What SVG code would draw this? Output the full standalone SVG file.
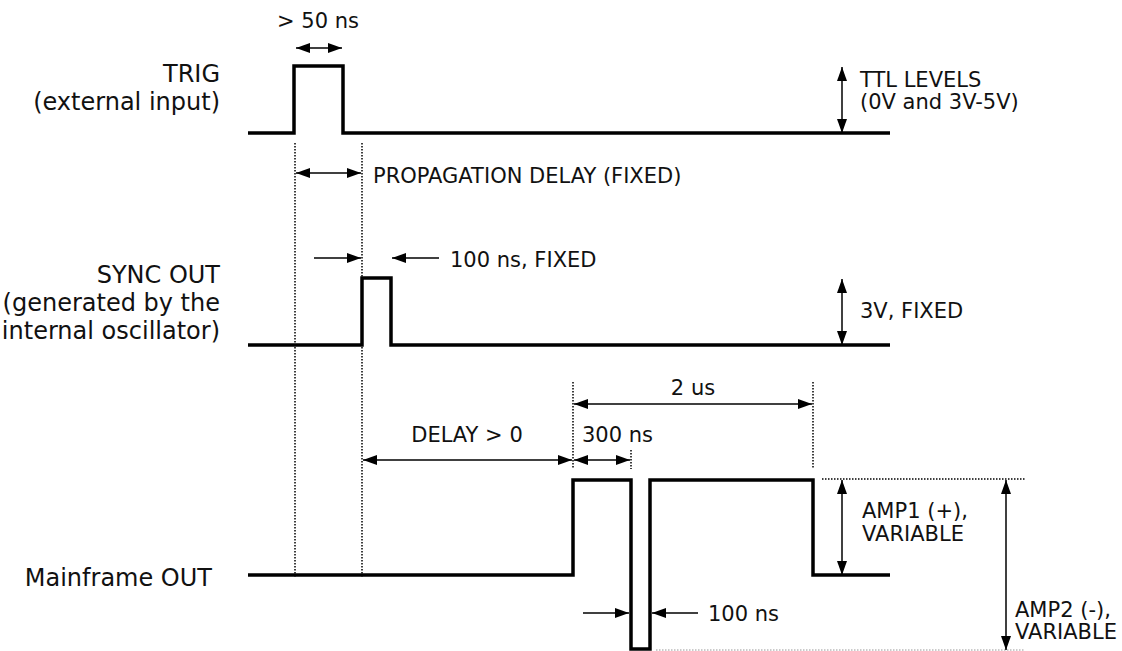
<svg xmlns="http://www.w3.org/2000/svg" width="1122" height="651" viewBox="0 0 1122 651">
<style>
.wave{fill:none;stroke:#000;stroke-width:3.5;stroke-linejoin:miter}
.dim{fill:none;stroke:#000;stroke-width:1.5}
.dot{fill:none;stroke:#000;stroke-width:1.5;stroke-dasharray:1.5 1.5}
.dotg{fill:none;stroke:#bbb;stroke-width:1.5;stroke-dasharray:1.5 1.5}
.lbl{font-family:"DejaVu Sans",Verdana,sans-serif;font-size:24px;fill:#111;text-anchor:end}
.t{font-family:"DejaVu Sans",Verdana,sans-serif;font-size:21px;fill:#111}
</style>
<defs>
<marker id="ah" viewBox="0 0 14 10" refX="14" refY="5" markerWidth="14" markerHeight="10" markerUnits="userSpaceOnUse" orient="auto-start-reverse">
<path d="M0,0 L14,5 L0,10 z" fill="#000"/>
</marker>
</defs>
<rect width="1122" height="651" fill="#fff"/>
<g id="labels">
<text class="lbl" x="220" y="82">TRIG</text>
<text class="lbl" x="220" y="110">(external input)</text>
<text class="lbl" x="220" y="283">SYNC OUT</text>
<text class="lbl" x="220" y="311">(generated by the</text>
<text class="lbl" x="220" y="339">internal oscillator)</text>
<text class="lbl" x="212" y="586">Mainframe OUT</text>
</g>
<g id="trig">
<path class="wave" d="M248,133 H294 V66 H343 V133 H890"/>
</g>
<g id="sync">
<path class="wave" d="M248,345 H362 V278 H391 V345 H890"/>
</g>
<g id="mainframe">
<path class="wave" d="M248,575 H573 V480 H631 V649 H650 V480 H813 V575 H890"/>
</g>
<g id="guides">
<line class="dot" x1="295" y1="143" x2="295" y2="578"/>
<line class="dot" x1="362" y1="143" x2="362" y2="578"/>
<line class="dot" x1="573" y1="382" x2="573" y2="469"/>
<line class="dot" x1="631" y1="450" x2="631" y2="469"/>
<line class="dot" x1="813" y1="382" x2="813" y2="469"/>
<line class="dot" x1="822" y1="479" x2="1025" y2="479"/>
<line class="dotg" x1="656" y1="650" x2="1025" y2="650"/>
</g>
<g id="connectors">
<line class="dim" x1="296" y1="48" x2="342" y2="48" marker-start="url(#ah)" marker-end="url(#ah)"/>
<line class="dim" x1="842" y1="67" x2="842" y2="133" marker-start="url(#ah)" marker-end="url(#ah)"/>
<line class="dim" x1="296" y1="173" x2="361" y2="173" marker-start="url(#ah)" marker-end="url(#ah)"/>
<line class="dim" x1="314" y1="258" x2="361" y2="258" marker-end="url(#ah)"/>
<line class="dim" x1="439" y1="258" x2="392" y2="258" marker-end="url(#ah)"/>
<line class="dim" x1="842" y1="279" x2="842" y2="345" marker-start="url(#ah)" marker-end="url(#ah)"/>
<line class="dim" x1="574" y1="404" x2="812" y2="404" marker-start="url(#ah)" marker-end="url(#ah)"/>
<line class="dim" x1="363" y1="460" x2="572" y2="460" marker-start="url(#ah)" marker-end="url(#ah)"/>
<line class="dim" x1="574" y1="460" x2="630" y2="460" marker-start="url(#ah)" marker-end="url(#ah)"/>
<line class="dim" x1="842" y1="480" x2="842" y2="575" marker-start="url(#ah)" marker-end="url(#ah)"/>
<line class="dim" x1="1006" y1="480" x2="1006" y2="650" marker-start="url(#ah)" marker-end="url(#ah)"/>
<line class="dim" x1="583" y1="613" x2="629" y2="613" marker-end="url(#ah)"/>
<line class="dim" x1="698" y1="613" x2="652" y2="613" marker-end="url(#ah)"/>
</g>
<g id="annotations">
<text class="t" x="318" y="28" text-anchor="middle">&gt; 50 ns</text>
<text class="t" x="860" y="87">TTL LEVELS</text>
<text class="t" x="860" y="109">(0V and 3V-5V)</text>
<text class="t" x="373" y="183">PROPAGATION DELAY (FIXED)</text>
<text class="t" x="450" y="267">100 ns, FIXED</text>
<text class="t" x="860" y="318">3V, FIXED</text>
<text class="t" x="693" y="395" text-anchor="middle">2 us</text>
<text class="t" x="467" y="442" text-anchor="middle">DELAY &gt; 0</text>
<text class="t" x="582" y="442">300 ns</text>
<text class="t" x="862" y="518">AMP1 (+),</text>
<text class="t" x="862" y="541">VARIABLE</text>
<text class="t" x="1015" y="617">AMP2 (-),</text>
<text class="t" x="1015" y="639">VARIABLE</text>
<text class="t" x="708" y="621">100 ns</text>
</g>
</svg>
